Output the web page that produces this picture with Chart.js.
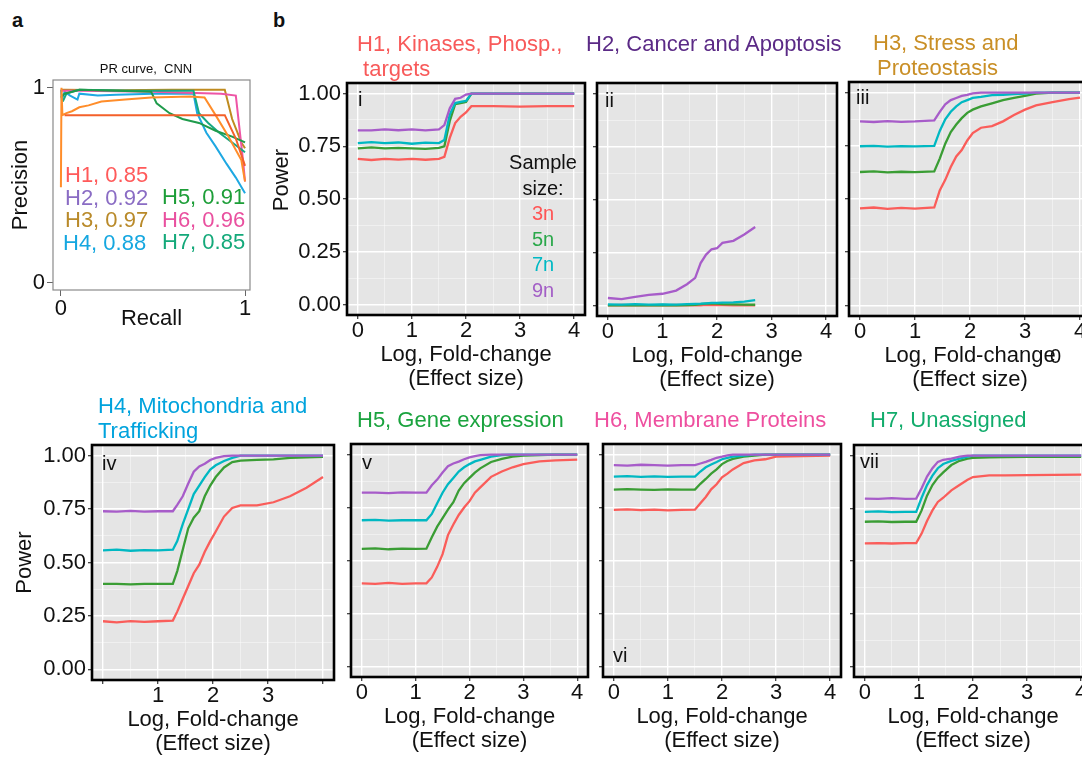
<!DOCTYPE html>
<html lang="en">
<head>
<meta charset="UTF-8">
<title>PR curve and power by sample size</title>
<script src="https://cdn.jsdelivr.net/npm/chart.js"></script>
<style>
  body {
    margin: 0;
    width: 1082px;
    height: 760px;
    overflow: hidden;
    position: relative;
    background: #fff;
    font-family: "Liberation Sans", Arial, sans-serif;
    color: #111;
  }
  canvas { position: absolute; }
  .txt { position: absolute; white-space: pre; z-index: 5; }
  .big { font-size: 22px; line-height: 25px; }
  .num { font-size: 20px; line-height: 20px; }
  .letter { font-size: 20px; line-height: 20px; font-weight: bold; }
</style>
</head>
<body>

<div class="txt letter" style="left:12px;top:10px">a</div>
<div class="txt letter" style="left:273px;top:10px">b</div>

<!-- panel a -->
<div class="txt" style="left:96px;top:62px;width:100px;text-align:center;font-size:13px;line-height:13px">PR curve,  CNN</div>
<div class="txt" style="left:65px;top:164px;font-size:22px;line-height:22.5px"><span style="color:#ff5a5a">H1, 0.85</span>
<span style="color:#8a6cc4">H2, 0.92</span>
<span style="color:#b98a2a">H3, 0.97</span>
<span style="color:#15a7e0;margin-left:-2px">H4, 0.88</span></div>
<div class="txt" style="left:162px;top:186px;font-size:22px;line-height:22.5px"><span style="color:#1d9e38">H5, 0.91</span>
<span style="color:#e9509f">H6, 0.96</span>
<span style="color:#14a97a">H7, 0.85</span></div>

<!-- panel b headings -->
<div class="txt big" style="left:357px;top:31px;color:#f85a5a">H1, Kinases, Phosp.,
 targets</div>
<div class="txt big" style="left:586px;top:31px;color:#5b2a86">H2, Cancer and Apoptosis</div>
<div class="txt big" style="left:873px;top:30px;color:#c98f26">H3, Stress and
<span style="margin-left:4px">Proteostasis</span></div>
<div class="txt big" style="left:98px;top:393px;color:#00a3dd">H4, Mitochondria and
Trafficking</div>
<div class="txt big" style="left:357px;top:407px;color:#1aa33e">H5, Gene expression</div>
<div class="txt big" style="left:594px;top:407px;color:#ee4f9f">H6, Membrane Proteins</div>
<div class="txt big" style="left:870px;top:407px;color:#12ac6c">H7, Unassigned</div>

<!-- panel numerals -->
<div class="txt num" style="left:358px;top:89px">i</div>
<div class="txt num" style="left:605px;top:90px">ii</div>
<div class="txt num" style="left:856px;top:87px">iii</div>
<div class="txt num" style="left:102px;top:453px">iv</div>
<div class="txt num" style="left:362px;top:452px">v</div>
<div class="txt num" style="left:613px;top:645px">vi</div>
<div class="txt num" style="left:860px;top:451px">vii</div>
<div class="txt num" style="left:1050px;top:346px">0</div>

<!-- "Power" on the top row sits a little above the panel centre -->
<div class="txt" style="left:269px;top:220px;font-size:22px;line-height:24px;transform:rotate(-90deg);transform-origin:0 0;width:80px;text-align:center">Power</div>

<!-- sample size key -->
<div class="txt" style="left:503px;top:150px;width:80px;text-align:center;font-size:20px;line-height:25.5px">Sample
size:
<span style="color:#ff5555">3n</span>
<span style="color:#2aa84a">5n</span>
<span style="color:#00b9c4">7n</span>
<span style="color:#a35fc6">9n</span></div>

<canvas id="pa"></canvas>
<canvas id="p1"></canvas>
<canvas id="p2"></canvas>
<canvas id="p3"></canvas>
<canvas id="p4"></canvas>
<canvas id="p5"></canvas>
<canvas id="p6"></canvas>
<canvas id="p7"></canvas>

<script>
    // ---- panel a: precision / recall curves ----
    const prTicks = [0, 1];
    const h1Recall = [0.02, 0.3, 0.6, 0.89, 0.95, 1.0];
    const h1Prec   = [0.86, 0.86, 0.86, 0.86, 0.74, 0.6];
    const h2Recall = [0, 0.003, 0.008, 0.03, 0.06, 0.1, 0.15, 0.22, 0.35, 0.49, 0.6, 0.7, 0.78, 0.84, 0.91, 0.98, 1.0];
    const h2Prec   = [0.49, 1.0, 0.86, 0.87, 0.88, 0.9, 0.91, 0.93, 0.94, 0.95, 0.953, 0.955, 0.95, 0.86, 0.75, 0.63, 0.52];
    const h3Recall = [0, 0.02, 0.3, 0.6, 0.89, 0.93, 0.98, 1.0];
    const h3Prec   = [0.99, 0.99, 0.988, 0.99, 0.99, 0.84, 0.72, 0.69];
    const h4Recall = [0, 0.005, 0.02, 0.05, 0.09, 0.1, 0.2, 0.3, 0.5, 0.72, 0.74, 0.79, 0.84, 0.9, 0.95, 1.0];
    const h4Prec   = [0.99, 0.94, 0.98, 0.96, 0.94, 0.97, 0.96, 0.965, 0.97, 0.97, 0.87, 0.77, 0.70, 0.61, 0.54, 0.46];
    const h5Recall = [0, 0.02, 0.1, 0.3, 0.49, 0.52, 0.59, 0.66, 0.75, 0.84, 0.93, 1.0];
    const h5Prec   = [0.95, 0.97, 0.99, 0.985, 0.98, 0.92, 0.87, 0.84, 0.82, 0.78, 0.75, 0.72];
    const h6Recall = [0, 0.1, 0.5, 0.87, 0.95, 0.99, 1.0];
    const h6Prec   = [0.985, 0.985, 0.98, 0.97, 0.96, 0.62, 0.52];
    const h7Recall = [0.01, 0.03, 0.1, 0.4, 0.72, 0.75, 0.8, 0.86, 0.93, 1.0];
    const h7Prec   = [0.93, 0.97, 0.99, 0.985, 0.985, 0.87, 0.82, 0.77, 0.72, 0.67];

    // ---- panel b: power vs log fold-change ----
    const sampleSizes = ['3n', '5n', '7n', '9n'];
    const sampleColors = ['#fa5d5a', '#3a9d34', '#00b8c2', '#a75cc9'];
    const powerTicks = [0, 0.25, 0.5, 0.75, 1];
    const foldTicks = [0, 1, 2, 3, 4];

    // i  H1
    const xI   = [0, 0.25, 0.5, 0.75, 1, 1.25, 1.5, 1.6, 1.7, 1.8, 1.9, 2, 2.1, 2.5, 3, 3.5, 4];
    const i3n  = [0.69, 0.685, 0.69, 0.687, 0.69, 0.686, 0.69, 0.70, 0.79, 0.86, 0.89, 0.91, 0.94, 0.94, 0.938, 0.94, 0.94];
    const i5n  = [0.74, 0.745, 0.74, 0.742, 0.74, 0.738, 0.742, 0.75, 0.87, 0.95, 0.955, 0.96, 1, 1, 1, 1, 1];
    const i7n  = [0.765, 0.77, 0.765, 0.768, 0.762, 0.767, 0.765, 0.78, 0.90, 0.955, 0.96, 0.965, 1, 1, 1, 1, 1];
    const i9n  = [0.825, 0.825, 0.83, 0.826, 0.83, 0.825, 0.83, 0.85, 0.93, 0.975, 0.98, 0.995, 1, 1, 1, 1, 1];
    // ii  H2
    const xII  = [0, 0.25, 0.5, 0.75, 1, 1.25, 1.45, 1.6, 1.7, 1.8, 1.9, 2, 2.1, 2.3, 2.5, 2.7];
    const ii3n = [0, 0.002, 0, 0.001, 0, 0.002, 0, 0.001, 0, 0.003, 0.002, 0.001, 0.002, 0, 0.001, 0];
    const ii5n = [0, 0, 0.001, 0, 0.002, 0, 0.001, 0.003, 0.006, 0.008, 0.01, 0.008, 0.006, 0.005, 0.004, 0.003];
    const ii7n = [0.005, 0.004, 0.006, 0.004, 0.005, 0.004, 0.006, 0.007, 0.008, 0.01, 0.012, 0.012, 0.013, 0.014, 0.018, 0.025];
    const ii9n = [0.035, 0.03, 0.04, 0.05, 0.055, 0.07, 0.10, 0.13, 0.20, 0.24, 0.265, 0.27, 0.295, 0.305, 0.335, 0.37];
    // iii  H3
    const xIII  = [0, 0.25, 0.5, 0.75, 1, 1.35, 1.45, 1.55, 1.65, 1.75, 1.85, 1.95, 2.05, 2.2, 2.4, 2.6, 2.8, 3, 3.2, 3.5, 3.8, 4];
    const iii3n = [0.456, 0.46, 0.454, 0.458, 0.455, 0.46, 0.54, 0.59, 0.65, 0.70, 0.73, 0.775, 0.81, 0.835, 0.843, 0.865, 0.895, 0.92, 0.94, 0.955, 0.97, 0.977];
    const iii5n = [0.627, 0.63, 0.625, 0.628, 0.626, 0.63, 0.69, 0.76, 0.815, 0.85, 0.88, 0.905, 0.92, 0.935, 0.95, 0.965, 0.975, 0.985, 0.995, 1, 1, 1];
    const iii7n = [0.748, 0.75, 0.746, 0.749, 0.747, 0.75, 0.82, 0.875, 0.91, 0.935, 0.955, 0.965, 0.975, 0.98, 0.988, 0.99, 0.993, 0.995, 1, 1, 1, 1];
    const iii9n = [0.865, 0.862, 0.866, 0.863, 0.865, 0.87, 0.91, 0.945, 0.965, 0.975, 0.985, 0.99, 0.997, 1, 1, 1, 1, 1, 1, 1, 1, 1];
    // iv  H4
    const xIV  = [0, 0.25, 0.5, 0.75, 1, 1.27, 1.35, 1.45, 1.55, 1.65, 1.75, 1.85, 1.95, 2.05, 2.2, 2.35, 2.5, 2.8, 3.1, 3.4, 3.7, 4];
    const iv3n = [0.225, 0.22, 0.226, 0.222, 0.225, 0.228, 0.27, 0.33, 0.39, 0.45, 0.49, 0.55, 0.60, 0.645, 0.715, 0.755, 0.767, 0.767, 0.782, 0.81, 0.85, 0.90];
    const iv5n = [0.40, 0.40, 0.398, 0.40, 0.40, 0.40, 0.46, 0.56, 0.66, 0.71, 0.74, 0.81, 0.86, 0.90, 0.945, 0.97, 0.977, 0.98, 0.983, 0.99, 0.992, 0.995];
    const iv7n = [0.557, 0.56, 0.555, 0.558, 0.557, 0.56, 0.60, 0.68, 0.75, 0.82, 0.86, 0.90, 0.935, 0.955, 0.975, 0.99, 1, 1, 1, 1, 1, 1];
    const iv9n = [0.74, 0.738, 0.742, 0.738, 0.74, 0.74, 0.77, 0.81, 0.87, 0.925, 0.95, 0.962, 0.98, 0.99, 0.998, 1, 1, 1, 1, 1, 1, 1];
    // v  H5
    const xV  = [0, 0.25, 0.5, 0.75, 1, 1.2, 1.3, 1.4, 1.5, 1.6, 1.7, 1.8, 1.9, 2, 2.1, 2.2, 2.4, 2.6, 2.8, 3, 3.3, 3.6, 4];
    const v3n = [0.392, 0.39, 0.394, 0.39, 0.392, 0.392, 0.42, 0.47, 0.53, 0.62, 0.67, 0.715, 0.75, 0.78, 0.82, 0.845, 0.895, 0.92, 0.94, 0.955, 0.968, 0.973, 0.976];
    const v5n = [0.555, 0.557, 0.553, 0.556, 0.555, 0.556, 0.61, 0.66, 0.70, 0.74, 0.775, 0.83, 0.865, 0.89, 0.915, 0.935, 0.965, 0.98, 0.99, 0.995, 0.998, 1, 1];
    const v7n = [0.69, 0.692, 0.688, 0.69, 0.69, 0.69, 0.72, 0.77, 0.82, 0.86, 0.89, 0.92, 0.94, 0.955, 0.968, 0.975, 0.99, 0.998, 1, 1, 1, 1, 1];
    const v9n = [0.82, 0.82, 0.818, 0.822, 0.82, 0.82, 0.855, 0.882, 0.915, 0.945, 0.958, 0.967, 0.978, 0.987, 0.993, 0.997, 1, 1, 1, 1, 1, 1, 1];
    // vi  H6
    const xVI  = [0, 0.25, 0.5, 0.75, 1, 1.25, 1.5, 1.6, 1.7, 1.8, 1.9, 2, 2.1, 2.2, 2.4, 2.6, 2.8, 3, 3.5, 4];
    const vi3n = [0.739, 0.741, 0.738, 0.74, 0.737, 0.739, 0.74, 0.77, 0.80, 0.836, 0.86, 0.893, 0.91, 0.93, 0.96, 0.973, 0.978, 0.99, 0.993, 0.995];
    const vi5n = [0.835, 0.837, 0.835, 0.833, 0.836, 0.835, 0.835, 0.862, 0.885, 0.91, 0.93, 0.955, 0.97, 0.98, 0.99, 0.995, 1, 1, 1, 1];
    const vi7n = [0.896, 0.898, 0.895, 0.897, 0.895, 0.896, 0.896, 0.92, 0.94, 0.953, 0.965, 0.978, 0.985, 0.99, 0.995, 1, 1, 1, 1, 1];
    const vi9n = [0.95, 0.948, 0.952, 0.95, 0.948, 0.95, 0.95, 0.958, 0.966, 0.975, 0.985, 0.99, 0.996, 1, 1, 1, 1, 1, 1, 1];
    // vii  H7
    const xVII  = [0, 0.25, 0.5, 0.75, 0.95, 1.05, 1.15, 1.25, 1.35, 1.45, 1.6, 1.75, 1.9, 2, 2.3, 2.6, 3, 3.5, 4];
    const vii3n = [0.584, 0.585, 0.583, 0.585, 0.585, 0.63, 0.69, 0.74, 0.78, 0.80, 0.835, 0.86, 0.885, 0.898, 0.906, 0.906, 0.907, 0.908, 0.91];
    const vii5n = [0.686, 0.688, 0.685, 0.686, 0.686, 0.74, 0.81, 0.86, 0.895, 0.92, 0.955, 0.975, 0.985, 0.989, 0.992, 0.993, 0.994, 0.994, 0.994];
    const vii7n = [0.733, 0.735, 0.732, 0.733, 0.733, 0.80, 0.86, 0.905, 0.94, 0.96, 0.975, 0.985, 0.995, 1, 1, 1, 1, 1, 1];
    const vii9n = [0.796, 0.795, 0.798, 0.795, 0.796, 0.845, 0.9, 0.94, 0.97, 0.98, 0.985, 0.995, 1, 1, 1, 1, 1, 1, 1];

    const FONT = '"Liberation Sans", Arial, sans-serif';
    const pts = (xs, ys) => xs.map((x, i) => ({x: x, y: ys[i]}));

    // major ticks plus the minor ones half way between them
    function withMinor(major) {
        const out = [];
        major.forEach((v, i) => {
            out.push(v);
            if (i < major.length - 1) out.push((v + major[i + 1]) / 2);
        });
        return out;
    }
    const isMajor = (list, v) => list.some(m => Math.abs(m - v) < 1e-9);

    // grey panel with a black frame (ggplot look)
    const panelFrame = {
        id: 'panelFrame',
        beforeDraw(chart) {
            const a = chart.chartArea, c = chart.ctx;
            c.save();
            c.fillStyle = '#e5e5e5';
            c.fillRect(a.left, a.top, a.right - a.left, a.bottom - a.top);
            c.restore();
        },
        afterDraw(chart) {
            const a = chart.chartArea, c = chart.ctx;
            c.save();
            c.strokeStyle = '#000';
            c.lineWidth = 2.6;
            c.strokeRect(a.left, a.top, a.right - a.left, a.bottom - a.top);
            c.restore();
        }
    };

    function gridOpts(major) {
        return {
            drawTicks: true,
            tickLength: 4,
            color: ctx => (ctx.tick && isMajor(major, ctx.tick.value)) ? '#ffffff' : 'rgba(255,255,255,0.6)',
            lineWidth: ctx => (ctx.tick && isMajor(major, ctx.tick.value)) ? 1.4 : 0.7,
            tickColor: ctx => (ctx.tick && isMajor(major, ctx.tick.value)) ? '#333' : 'rgba(0,0,0,0)',
            tickWidth: 1.2
        };
    }

    const panels = [
        {id: 'p1', box: [347, 83, 585, 315], x: xI,   ys: [i3n, i5n, i7n, i9n],         yLabels: true, yTitle: false},
        {id: 'p2', box: [597, 83, 837, 316], x: xII,  ys: [ii3n, ii5n, ii7n, ii9n],     yLabels: false},
        {id: 'p3', box: [849, 82, 1091, 316], x: xIII, ys: [iii3n, iii5n, iii7n, iii9n], yLabels: false},
        {id: 'p4', box: [92, 445, 334, 680], x: xIV,  ys: [iv3n, iv5n, iv7n, iv9n],     yLabels: true, yTitle: true, innerX: true},
        {id: 'p5', box: [351, 444, 588, 677], x: xV,   ys: [v3n, v5n, v7n, v9n],         yLabels: false},
        {id: 'p6', box: [603, 444, 841, 677], x: xVI,  ys: [vi3n, vi5n, vi7n, vi9n],     yLabels: false},
        {id: 'p7', box: [854, 445, 1092, 677], x: xVII, ys: [vii3n, vii5n, vii7n, vii9n], yLabels: false}
    ];

    function makePanel(p) {
        const [L, T, R, B] = p.box;
        const yW = p.yLabels ? 79 : 10;
        const xH = 76;
        const cv = document.getElementById(p.id);
        cv.width = R - L + yW + 10;
        cv.height = B - T + 20 + xH;
        cv.style.left = (L - yW) + 'px';
        cv.style.top = (T - 20) + 'px';

        const xAll = withMinor(foldTicks);
        const yAll = withMinor(powerTicks);

        new Chart(cv, {
            type: 'line',
            data: {
                datasets: sampleSizes.map((s, k) => ({
                    label: s,
                    data: pts(p.x, p.ys[k]),
                    borderColor: sampleColors[k],
                    borderWidth: 2.3,
                    pointRadius: 0,
                    tension: 0,
                    fill: false,
                    order: sampleSizes.length - k
                }))
            },
            options: {
                responsive: false,
                animation: false,
                layout: {padding: {left: 0, top: 20, right: 10, bottom: 0}},
                plugins: {legend: {display: false}, tooltip: {enabled: false}},
                scales: {
                    x: {
                        type: 'linear',
                        min: -0.2,
                        max: 4.2,
                        afterBuildTicks: s => { s.ticks = xAll.map(v => ({value: v})); },
                        afterFit: s => { s.height = xH; },
                        border: {display: false},
                        grid: gridOpts(foldTicks),
                        ticks: {
                            autoSkip: false,
                            maxRotation: 0,
                            minRotation: 0,
                            padding: 1,
                            color: '#111',
                            font: {family: FONT, size: 22, lineHeight: 1},
                            callback: v => {
                                if (!isMajor(foldTicks, v)) return '';
                                if (p.innerX && (v === foldTicks[0] || v === foldTicks[foldTicks.length - 1])) return '';
                                return String(v);
                            }
                        },
                        title: {
                            display: true,
                            text: ['Log, Fold-change', '(Effect size)'],
                            color: '#111',
                            padding: 0,
                            font: {family: FONT, size: 22, lineHeight: 1.1}
                        }
                    },
                    y: {
                        type: 'linear',
                        min: -0.05,
                        max: 1.05,
                        afterBuildTicks: s => { s.ticks = yAll.map(v => ({value: v})); },
                        afterFit: s => { s.width = yW; },
                        border: {display: false},
                        grid: gridOpts(powerTicks),
                        ticks: {
                            padding: 2,
                            color: '#111',
                            font: {family: FONT, size: 22, lineHeight: 1},
                            callback: v => (p.yLabels && isMajor(powerTicks, v)) ? v.toFixed(2) : ''
                        },
                        title: {
                            display: !!p.yTitle,
                            text: 'Power',
                            color: '#111',
                            padding: 0,
                            font: {family: FONT, size: 22, lineHeight: 1.1}
                        }
                    }
                }
            },
            plugins: [panelFrame]
        });
    }
    panels.forEach(makePanel);

    // ---- panel a chart ----
    const prFrame = {
        id: 'prFrame',
        afterDraw(chart) {
            const a = chart.chartArea, c = chart.ctx;
            c.save();
            c.strokeStyle = '#8a8a8a';
            c.lineWidth = 1.2;
            c.strokeRect(a.left, a.top, a.right - a.left, a.bottom - a.top);
            c.restore();
        }
    };
    const pa = document.getElementById('pa');
    pa.width = 260;
    pa.height = 270;
    pa.style.left = '0px';
    pa.style.top = '60px';
    const prSeries = [
        ['H1', h1Recall, h1Prec, '#f4602a'],
        ['H2', h2Recall, h2Prec, '#ff8d2a'],
        ['H5', h5Recall, h5Prec, '#1f9b4c'],
        ['H7', h7Recall, h7Prec, '#17a884'],
        ['H6', h6Recall, h6Prec, '#ee55a5'],
        ['H4', h4Recall, h4Prec, '#1ea8e2'],
        ['H3', h3Recall, h3Prec, '#bf8b1f']
    ];
    new Chart(pa, {
        type: 'line',
        data: {
            datasets: prSeries.map(s => ({
                label: s[0],
                data: pts(s[1], s[2]),
                borderColor: s[3],
                borderWidth: 2,
                pointRadius: 0,
                tension: 0,
                fill: false
            }))
        },
        options: {
            responsive: false,
            animation: false,
            layout: {padding: {left: 9, top: 20, right: 10, bottom: 0}},
            plugins: {legend: {display: false}, tooltip: {enabled: false}},
            scales: {
                x: {
                    type: 'linear',
                    min: -0.043,
                    max: 1.027,
                    afterBuildTicks: s => { s.ticks = prTicks.map(v => ({value: v})); },
                    afterFit: s => { s.height = 40; },
                    border: {display: false},
                    grid: {drawOnChartArea: false, drawTicks: true, tickLength: 6, tickColor: '#666'},
                    ticks: {padding: 2, color: '#111', maxRotation: 0, font: {family: FONT, size: 22, lineHeight: 1}},
                    title: {display: true, text: 'Recall', color: '#111', padding: 0, font: {family: FONT, size: 22, lineHeight: 1}}
                },
                y: {
                    type: 'linear',
                    min: -0.036,
                    max: 1.04,
                    afterBuildTicks: s => { s.ticks = prTicks.map(v => ({value: v})); },
                    afterFit: s => { s.width = 44; },
                    border: {display: false},
                    grid: {drawOnChartArea: false, drawTicks: true, tickLength: 6, tickColor: '#666'},
                    ticks: {padding: 2, color: '#111', font: {family: FONT, size: 22, lineHeight: 1}},
                    title: {display: true, text: 'Precision', color: '#111', padding: 0, font: {family: FONT, size: 22, lineHeight: 1.1}}
                }
            }
        },
        plugins: [prFrame]
    });
</script>
</body>
</html>
